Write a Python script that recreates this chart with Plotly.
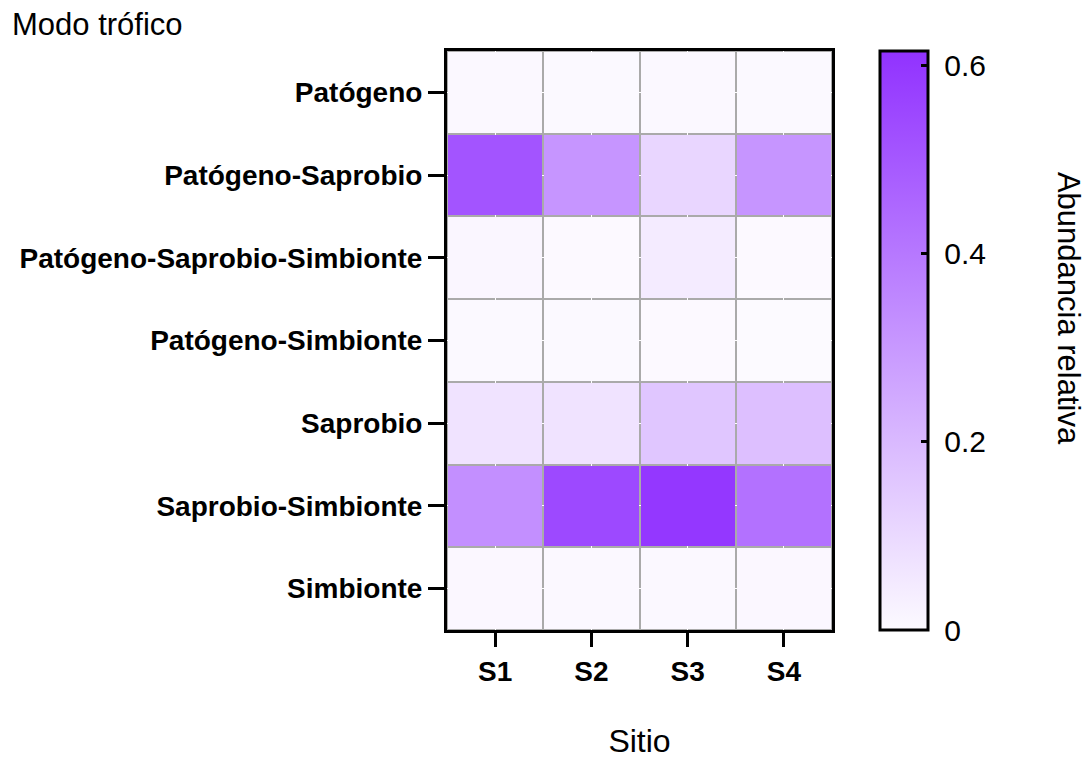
import plotly.graph_objects as go

sitios = ["S1", "S2", "S3", "S4"]
modos = ["Patógeno", "Patógeno-Saprobio", "Patógeno-Saprobio-Simbionte",
         "Patógeno-Simbionte", "Saprobio", "Saprobio-Simbionte", "Simbionte"]
S1 = [0.005, 0.51, 0.012, 0.003, 0.07, 0.33, 0.008]
S2 = [0.004, 0.31, 0.002, 0.003, 0.07, 0.545, 0.006]
S3 = [0.005, 0.11, 0.046, 0.002, 0.16, 0.60, 0.006]
S4 = [0.004, 0.31, 0.002, 0.001, 0.18, 0.42, 0.008]
cb_ticks = [0, 0.2, 0.4, 0.6]
cb_labels = ["0", "0.2", "0.4", "0.6"]

z = [[S1[i], S2[i], S3[i], S4[i]] for i in range(len(modos))]

font = "Liberation Sans, Arial, sans-serif"

fig = go.Figure(go.Heatmap(
    x=sitios, y=modos, z=z,
    zmin=0, zmax=0.615,
    colorscale=[[0, "rgb(252,250,255)"], [1, "rgb(145,50,255)"]],
    xgap=2, ygap=2,
    colorbar=dict(
        thickness=48, len=1.0, lenmode="fraction", ypad=0, xpad=0,
        x=1.125, xanchor="left", y=0.5, yanchor="middle",
        outlinewidth=3, outlinecolor="black",
        tickvals=cb_ticks, ticktext=["\u00a0" + t for t in cb_labels],
        ticks="inside", ticklen=8, tickwidth=3, tickcolor="black",
        tickfont=dict(family=font, size=30, color="black"),
    ),
))

fig.update_layout(
    width=1086, height=759,
    margin=dict(l=447, r=254, t=51, b=129, autoexpand=False),
    paper_bgcolor="white", plot_bgcolor="#AAAAAA",
    font=dict(family=font, color="black"),
    xaxis=dict(showline=True, linewidth=3, linecolor="black", mirror=True,
               automargin=False,
               ticks="outside", ticklen=14, tickwidth=3, tickcolor="black",
               tickfont=dict(family=font, size=28, color="black", weight="bold"),
               title=dict(text="Sitio", font=dict(size=32), standoff=51)),
    yaxis=dict(showline=True, linewidth=3, linecolor="black", mirror=True,
               automargin=False, autorange="reversed",
               ticks="outside", ticklen=16, tickwidth=3, tickcolor="black",
               tickfont=dict(family=font, size=28, color="black", weight="bold")),
    annotations=[
        dict(text="Modo trófico", xref="paper", yref="paper", x=-437/385, y=1.045,
             xanchor="left", yanchor="middle", showarrow=False,
             font=dict(family=font, size=31, color="black")),
        dict(text="Abundancia relativa", xref="paper", yref="paper", x=1.615, y=0.555,
             xanchor="center", yanchor="middle", textangle=90, showarrow=False,
             font=dict(family=font, size=31, color="black")),
    ],
)

fig.write_html("out.html")
